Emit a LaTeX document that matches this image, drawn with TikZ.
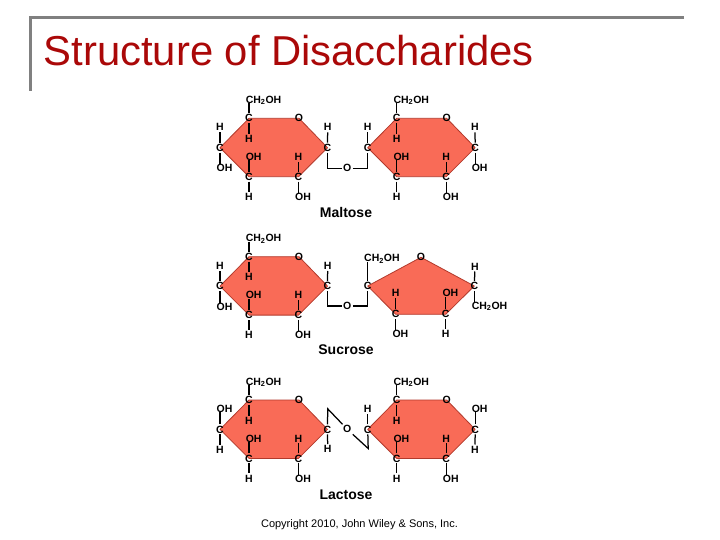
\documentclass[tikz,border=0pt]{standalone}
\usepackage{fontspec}
\setmainfont{Liberation Sans}
\definecolor{ringfill}{HTML}{F96B57}
\definecolor{ringedge}{HTML}{B23A2C}
\definecolor{titlered}{HTML}{AA0808}
\definecolor{rulegray}{HTML}{808080}
\tikzset{
  atom/.style={font=\fontsize{10.5}{10.5}\selectfont\bfseries, inner sep=1.2pt, text height=7.2pt, text depth=0pt},
  atomw/.style={atom, anchor=west, inner sep=0pt},
  ringshape/.style={fill=ringfill, draw=ringedge, line width=.8pt, line join=round},
  bond/.style={draw=black, line width=1.25pt},
  sugarname/.style={font=\fontsize{14}{14}\selectfont\bfseries, inner sep=0pt},
}
% six-membered ring: #1 prefix, #2 x and #3 y of the top-left carbon
\newcommand{\hexring}[3]{
  \begin{scope}[shift={(#2,#3)}]
    \draw[ringshape] (0,0) -- (50,0) -- (78.5,29.4) -- (49.5,58.4) -- (0,58.4) -- (-29,29.4) -- cycle;
    \node[atom] (#1tl) at (0,0) {C};
    \node[atom] (#1o)  at (50,0) {O};
    \node[atom] (#1r)  at (78.5,29.4) {C};
    \node[atom] (#1br) at (49.5,58.4) {C};
    \node[atom] (#1bl) at (0,58.4) {C};
    \node[atom] (#1l)  at (-29,29.4) {C};
    \node[atomw] (#1ch) at (-3.4,-18.6) {CH\textsubscript{2}OH};
    \node[atom] (#1th) at (0,20.6) {H};
    \node[atomw] (#1boh) at (-3.4,38.4) {OH};
    \node[atom] (#1bh) at (0,78.4) {H};
    \node[atom] (#1cu) at (49.5,38.4) {H};
    \node[atomw] (#1cd) at (46,78.4) {OH};
    \draw[bond] (#1tl) -- (#1tl |- #1ch.south);
    \draw[bond] (#1tl) -- (#1th);
    \draw[bond] (#1bl) -- (#1bl |- #1boh.south);
    \draw[bond] (#1bl) -- (#1bh);
    \draw[bond] (#1br) -- (#1cu);
    \draw[bond] (#1br) -- (#1br |- #1cd.north);
  \end{scope}
}
\begin{document}
\begin{tikzpicture}[x=1pt,y=-1pt]
\useasboundingbox (0,0) rectangle (720,540);
\draw[draw=rulegray, line width=3pt] (684,18) -- (30.5,18) -- (30.5,91);
\node[anchor=base west, inner sep=0pt, text=titlered, font=\fontsize{41.8}{42}\selectfont] (title) at (43.5,65.5) {Structure of Disaccharides};

% Maltose
\hexring{a}{249}{118.3}
\hexring{b}{396.7}{118.3}
\node[atom] (ah1) at (220,127.3) {H};
\node[atomw] (aoh1) at (216.5,168.3) {OH};
\node[atom] (ah2) at (327.7,127.3) {H};
\node[atom] (bh1) at (367.7,127.3) {H};
\node[atom] (bh2) at (475,127.3) {H};
\node[atomw] (boh2) at (471.6,168.3) {OH};
\draw[bond] (al) -- (ah1);
\draw[bond] (al) -- (al |- aoh1.north);
\draw[bond] (ar) -- (ah2);
\draw[bond] (bl) -- (bh1);
\draw[bond] (br) -- (bh2);
\draw[bond] (br) -- (br |- boh2.north);
\node[atom] (mo) at (347.3,168.3) {O};
\draw[bond] (ar) -- (ar |- mo) -- (mo);
\draw[bond] (mo) -- (mo -| bl) -- (bl);
\node[sugarname] (maltose) at (346,212.3) {Maltose};

% Sucrose
\hexring{c}{249}{256.7}
\node[atom] (ch1) at (220,266) {H};
\node[atomw] (coh1) at (216.5,306.5) {OH};
\node[atom] (ch2) at (327.7,266) {H};
\draw[bond] (cl) -- (ch1);
\draw[bond] (cl) -- (cl |- coh1.north);
\draw[bond] (cr) -- (ch2);
\draw[ringshape] (367.7,286) -- (421,257.3) -- (474.3,286) -- (445.7,314.3) -- (395.7,314.3) -- cycle;
\node[atom] (dl) at (367.7,286) {C};
\node[atom] (do) at (421,257.3) {O};
\node[atom] (dr) at (474.3,286) {C};
\node[atom] (dbr) at (445.7,314.3) {C};
\node[atom] (dbl) at (395.7,314.3) {C};
\node[atomw] (dch) at (364,258) {CH\textsubscript{2}OH};
\node[atom] (dh1) at (395.7,293.3) {H};
\node[atomw] (doh1) at (392.3,334) {OH};
\node[atomw] (doh2) at (442.3,293.3) {OH};
\node[atom] (dh2) at (445.7,334) {H};
\node[atom] (dh3) at (475,266.5) {H};
\node[atomw] (dch2) at (471.6,305.5) {CH\textsubscript{2}OH};
\draw[bond] (dl) -- (dl |- dch.south);
\draw[bond] (dbl) -- (dh1);
\draw[bond] (dbl) -- (dbl |- doh1.north);
\draw[bond] (dbr) -- (dbr |- doh2.south);
\draw[bond] (dbr) -- (dh2);
\draw[bond] (dr) -- (dh3);
\draw[bond] (dr) -- (dr |- dch2.north);
\node[atom] (so) at (347.3,306) {O};
\draw[bond] (cr) -- (cr |- so) -- (so);
\draw[bond] (so) -- (so -| dl) -- (dl);
\node[sugarname] (sucrose) at (346,349.3) {Sucrose};

% Lactose
\hexring{e}{249}{400}
\hexring{f}{396.7}{400}
\node[atomw] (eoh1) at (216.5,408.5) {OH};
\node[atom] (eh1) at (220,449.5) {H};
\node[atom] (eh2) at (327.7,449) {H};
\node[atom] (fh1) at (367.7,408.5) {H};
\node[atomw] (foh2) at (471.6,408.5) {OH};
\node[atom] (fh2) at (475,449.5) {H};
\draw[bond] (el) -- (el |- eoh1.south);
\draw[bond] (el) -- (eh1);
\draw[bond] (er) -- (eh2);
\draw[bond] (fl) -- (fh1);
\draw[bond] (fr) -- (fr |- foh2.south);
\draw[bond] (fr) -- (fh2);
\node[atom] (lo) at (347.3,429.3) {O};
\coordinate (ltop) at (327.7,408.8);
\coordinate (lbot) at (368.2,448.5);
\draw[bond] (er) -- (ltop) -- (lo);
\draw[bond] (lo) -- (lbot) -- (fl);
\node[sugarname] (lactose) at (346,494.3) {Lactose};

\node[font=\fontsize{11}{12}\selectfont, inner sep=0pt] (copy) at (359.5,524.3) {Copyright 2010, John Wiley \& Sons, Inc.};
\end{tikzpicture}
\end{document}
